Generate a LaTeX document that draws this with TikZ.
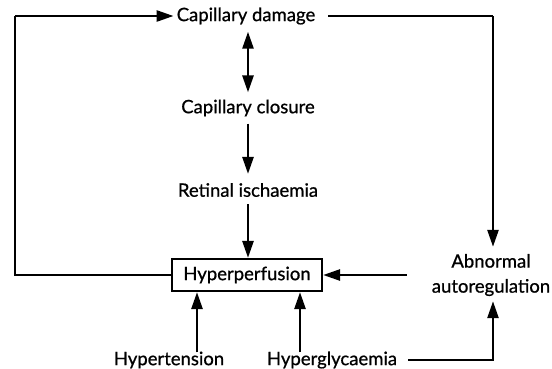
\documentclass[tikz,border=0pt]{standalone}
\usepackage{fontspec}
\setmainfont{Lato}
\newfontfamily\labelfont{Lato}[FakeBold=0.8]
\usetikzlibrary{arrows.meta}

\tikzset{
    label/.style={font=\labelfont\fontsize{18.5}{25}\selectfont, inner sep=3pt, align=center},
    boxed/.style={label, draw, line width=2.2pt, minimum width=150pt, minimum height=32pt},
    arr/.style={line width=2.6pt, -{Triangle[length=17pt,width=11pt]}},
    darr/.style={line width=2.6pt, {Triangle[length=17pt,width=11pt]}-{Triangle[length=17pt,width=11pt]}},
    ln/.style={line width=2.6pt}
}

\begin{document}
\begin{tikzpicture}[x=1pt, y=-1pt]
    \useasboundingbox (0,0) rectangle (552,368);

    % Nodes of the central chain
    \node[label] (damage) at (246,16) {Capillary damage};
    \node[label] (closure) at (248,108) {Capillary closure};
    \node[label] (retinal) at (248,190) {Retinal ischaemia};
    \node[boxed] (hyper) at (247,275) {Hyperperfusion};

    % Nodes on the right and at the bottom
    \node[label] (autoreg) at (491,275) {Abnormal\\autoregulation};
    \node[label] (hypten) at (169,360) {Hypertension};
    \node[label] (glyc) at (332,360) {Hyperglycaemia};

    % Corner points of the two loops
    \coordinate (LC) at (15,16);
    \coordinate (RC) at (493,16);

    % Vertical arrows of the chain
    \draw[darr] ([yshift=-4pt]damage.south -| closure.north) -- ([yshift=4pt]closure.north);
    \draw[arr] ([yshift=-4pt]closure.south) -- ([yshift=6pt]retinal.north);
    \draw[arr] ([yshift=-4pt]retinal.south) -- (retinal.south |- hyper.north);

    % Loop on the left
    \draw[ln] (hyper.west) -| (LC);
    \draw[arr] (LC) -- (damage.west);

    % Loop on the right
    \draw[ln] ([xshift=10pt]damage.east) -- (RC);
    \draw[arr] (RC) -- ([yshift=4pt]RC |- autoreg.north);
    \draw[arr] ([xshift=-22pt]autoreg.west) -- (hyper.east);
    \draw[arr] ([xshift=8pt]glyc.east) -| ([yshift=-2pt]RC |- autoreg.south);

    % Arrows from the bottom
    \draw[arr] ([xshift=28pt,yshift=-4pt]hypten.north) -- ([xshift=28pt]hypten.north |- hyper.south);
    \draw[arr] ([xshift=-32pt,yshift=-4pt]glyc.north) -- ([xshift=-32pt]glyc.north |- hyper.south);
\end{tikzpicture}
\end{document}
